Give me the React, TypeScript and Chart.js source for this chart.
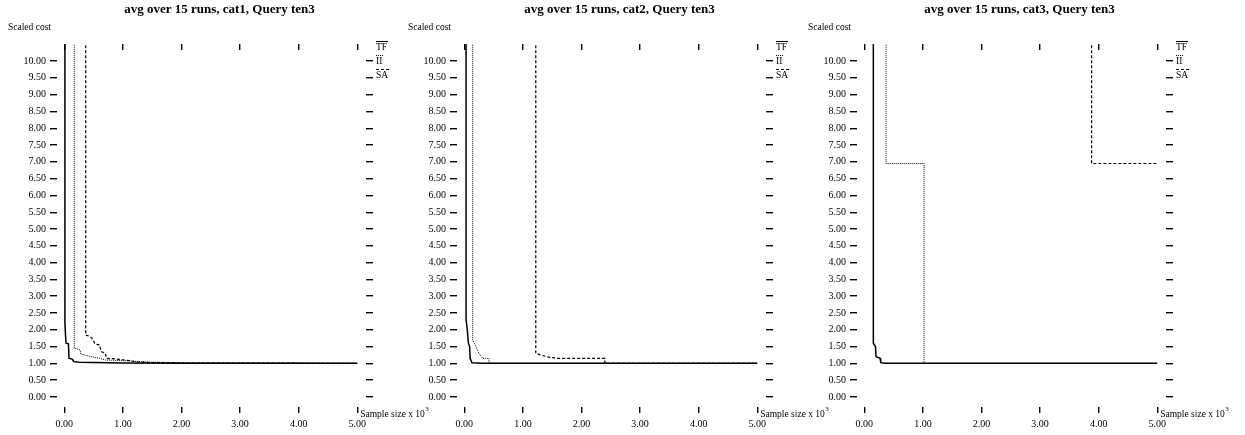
import { useEffect, useRef } from "react";
import { Chart, registerables } from "chart.js";

Chart.register(...registerables);

const FONT = "'Liberation Serif', 'DejaVu Serif', serif";

const X_TICKS = [0, 1, 2, 3, 4, 5];
const Y_TICKS = [0, 0.5, 1, 1.5, 2, 2.5, 3, 3.5, 4, 4.5, 5, 5.5, 6, 6.5, 7, 7.5, 8, 8.5, 9, 9.5, 10];

const SERIES_NAMES = ["TF", "II", "SA"];
const PANEL_TITLES = [
  "avg over 15 runs, cat1, Query ten3",
  "avg over 15 runs, cat2, Query ten3",
  "avg over 15 runs, cat3, Query ten3",
];
const Y_LABEL = "Scaled cost";
const X_LABEL = "Sample size x 10";
const X_LABEL_SUP = "3";

// Panel 1 (cat1)
const TF1_X = [0.01, 0.01, 0.02, 0.03, 0.07, 0.08, 0.14, 0.16, 0.25, 1.0, 2.0, 5.0];
const TF1_Y = [20, 2.2, 1.85, 1.6, 1.58, 1.15, 1.12, 1.05, 1.03, 1.01, 1.005, 1.0];
const II1_X = [0.17, 0.17, 0.27, 0.28, 0.41, 0.6, 0.7, 1.15, 1.4, 2.0, 5.0];
const II1_Y = [20, 1.45, 1.4, 1.28, 1.22, 1.15, 1.1, 1.07, 1.04, 1.02, 1.0];
const SA1_X = [0.365, 0.365, 0.44, 0.47, 0.53, 0.6, 0.63, 0.7, 0.72, 0.95, 1.15, 1.25, 1.5, 2.0, 5.0];
const SA1_Y = [20, 1.84, 1.8, 1.75, 1.57, 1.55, 1.35, 1.3, 1.15, 1.12, 1.07, 1.04, 1.02, 1.01, 1.0];

// Panel 2 (cat2)
const TF2_X = [0.03, 0.03, 0.05, 0.07, 0.09, 0.1, 0.13, 0.3, 5.0];
const TF2_Y = [20, 2.3, 2.0, 1.6, 1.5, 1.15, 1.02, 1.0, 1.0];
const II2_X = [0.143, 0.143, 0.17, 0.21, 0.25, 0.31, 0.42, 0.42, 5.0];
const II2_Y = [20, 1.69, 1.6, 1.45, 1.3, 1.15, 1.15, 1.0, 1.0];
const SA2_X = [1.22, 1.22, 1.3, 1.45, 1.6, 2.4, 2.4, 5.0];
const SA2_Y = [20, 1.3, 1.25, 1.18, 1.15, 1.15, 1.0, 1.0];

// Panel 3 (cat3)
const TF3_X = [0.154, 0.154, 0.19, 0.2, 0.27, 0.28, 0.35, 5.0];
const TF3_Y = [20, 1.6, 1.5, 1.2, 1.15, 1.02, 1.0, 1.0];
const II3_X = [0.37, 0.37, 1.02, 1.02, 5.0];
const II3_Y = [20, 6.95, 6.95, 1.0, 1.0];
const SA3_X = [3.88, 3.88, 5.0];
const SA3_Y = [20, 6.95, 6.95];

const PANELS = [
  { title: PANEL_TITLES[0], xs: [TF1_X, II1_X, SA1_X], ys: [TF1_Y, II1_Y, SA1_Y] },
  { title: PANEL_TITLES[1], xs: [TF2_X, II2_X, SA2_X], ys: [TF2_Y, II2_Y, SA2_Y] },
  { title: PANEL_TITLES[2], xs: [TF3_X, II3_X, SA3_X], ys: [TF3_Y, II3_Y, SA3_Y] },
];

const STYLES = [
  { dash: [] as number[], width: 1.5 },
  { dash: [1, 1], width: 1 },
  { dash: [3, 2], width: 1.2 },
];

const W = 445;
const H = 435;
const CHART_LEFT = 57;
const CHART_RIGHT = 366;
const CHART_TOP = 50;
const CHART_BOTTOM = 407;

const X_MIN = -0.125;
const X_MAX = 5.15;
const Y_MIN = -0.3;
const Y_MAX = 10.33;

const textPlugin = {
  id: "panelText",
  afterDraw(chart: any, _args: any, opts: any) {
    const ctx = chart.ctx;
    const xs = chart.scales.x;
    const area = chart.chartArea;
    ctx.save();
    ctx.fillStyle = "#000";
    ctx.strokeStyle = "#000";
    // title
    ctx.font = `bold 13px ${FONT}`;
    ctx.textAlign = "center";
    ctx.textBaseline = "middle";
    ctx.fillText(opts.title, (area.left + area.right) / 2 + 8, 10);
    // y label
    ctx.font = `9.5px ${FONT}`;
    ctx.textAlign = "left";
    ctx.fillText(Y_LABEL, 8, 27);
    // x label
    const px = xs.getPixelForValue(5) + 3;
    ctx.font = `9.5px ${FONT}`;
    ctx.fillText(X_LABEL, px, 414);
    const w = ctx.measureText(X_LABEL).width;
    ctx.font = `7px ${FONT}`;
    ctx.fillText(X_LABEL_SUP, px + w + 0.5, 409);
    // legend
    ctx.font = `9.5px ${FONT}`;
    const lx = area.right + 10;
    chart.data.datasets.forEach((ds: any, i: number) => {
      const ly = 47 + i * 14;
      ctx.fillText(ds.label, lx, ly);
      const tw = ctx.measureText(ds.label).width;
      ctx.beginPath();
      ctx.lineWidth = 1;
      ctx.setLineDash(ds.borderDash || []);
      ctx.moveTo(lx, ly - 5.5);
      ctx.lineTo(lx + tw + 1, ly - 5.5);
      ctx.stroke();
    });
    ctx.restore();
  },
};

function Panel({ index }: { index: number }) {
  const ref = useRef<HTMLCanvasElement | null>(null);
  useEffect(() => {
    const panel = PANELS[index];
    const datasets = SERIES_NAMES.map((name, i) => ({
      label: name,
      data: panel.xs[i].map((x, j) => ({ x, y: panel.ys[i][j] })),
      borderColor: "#000",
      borderWidth: STYLES[i].width,
      borderDash: STYLES[i].dash,
      pointRadius: 0,
      tension: 0,
      fill: false,
      xAxisID: "x",
      yAxisID: "y",
      clip: { left: 0, top: 6, right: 0, bottom: 0 },
    }));
    const setX = (s: any) => {
      s.ticks = X_TICKS.map((v) => ({ value: v }));
    };
    const setY = (s: any) => {
      s.ticks = Y_TICKS.map((v) => ({ value: v }));
    };
    const grid = {
      drawOnChartArea: false,
      drawTicks: true,
      color: "#000",
      lineWidth: 1.4,
    };
    const chart = new Chart(ref.current as HTMLCanvasElement, {
      type: "line",
      data: { datasets },
      plugins: [textPlugin],
      options: {
        animation: false,
        responsive: false,
        devicePixelRatio: 1,
        events: [],
        layout: { padding: 0 },
        plugins: {
          legend: { display: false },
          tooltip: { enabled: false },
          title: { display: false },
          panelText: { title: panel.title },
        } as any,
        scales: {
          x: {
            type: "linear",
            axis: "x",
            position: "bottom",
            min: X_MIN,
            max: X_MAX,
            afterBuildTicks: setX,
            ticks: {
              callback: (v: any) => Number(v).toFixed(2),
              font: { family: FONT, size: 10 },
              color: "#000",
              padding: 5,
              maxRotation: 0,
              autoSkip: false,
            },
            grid: { ...grid, tickLength: 6 },
            border: { display: false },
            afterFit: (s: any) => {
              s.height = H - CHART_BOTTOM;
            },
          },
          xTop: {
            type: "linear",
            axis: "x",
            position: "top",
            min: X_MIN,
            max: X_MAX,
            afterBuildTicks: setX,
            ticks: { display: false },
            grid: { ...grid, tickLength: 6 },
            border: { display: false },
            afterFit: (s: any) => {
              s.height = CHART_TOP;
            },
          },
          y: {
            type: "linear",
            axis: "y",
            position: "left",
            min: Y_MIN,
            max: Y_MAX,
            afterBuildTicks: setY,
            ticks: {
              callback: (v: any) => Number(v).toFixed(2),
              font: { family: FONT, size: 10 },
              color: "#000",
              padding: 4,
              autoSkip: false,
            },
            grid: { ...grid, tickLength: 7 },
            border: { display: false },
            afterFit: (s: any) => {
              s.width = CHART_LEFT;
            },
          },
          yRight: {
            type: "linear",
            axis: "y",
            position: "right",
            min: Y_MIN,
            max: Y_MAX,
            afterBuildTicks: setY,
            ticks: { display: false },
            grid: { ...grid, tickLength: 7 },
            border: { display: false },
            afterFit: (s: any) => {
              s.width = W - CHART_RIGHT;
            },
          },
        } as any,
      },
    } as any);
    return () => chart.destroy();
  }, [index]);
  return (
    <canvas
      ref={ref}
      width={W}
      height={H}
      style={{ position: "absolute", left: index * 400, top: 0, width: W, height: H }}
    />
  );
}

export default function App() {
  useEffect(() => {
    document.body.style.margin = "0";
  }, []);
  return (
    <div style={{ position: "absolute", left: 0, top: 0, width: 1245, height: 435, background: "#fff" }}>
      {[0, 1, 2].map((i) => (
        <Panel key={i} index={i} />
      ))}
    </div>
  );
}
